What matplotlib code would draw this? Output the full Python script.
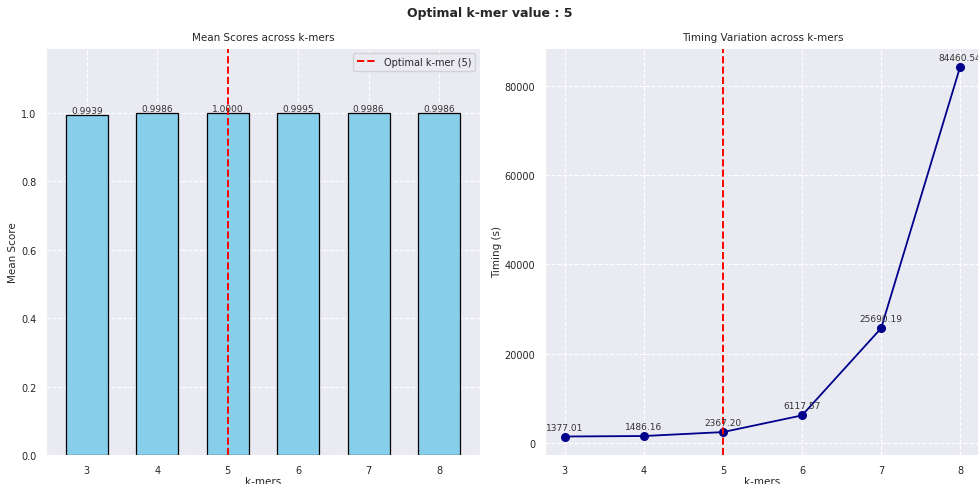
import matplotlib.pyplot as plt
import seaborn as sns

sns.set_style("darkgrid", {"grid.linestyle": "--"})

kmers = [3, 4, 5, 6, 7, 8]
mean_scores = [0.9939, 0.9986, 1.0000, 0.9995, 0.9986, 0.9986]
timings = [1377.01, 1486.16, 2367.20, 6117.57, 25690.19, 84460.54]
best_k = 5

fig = plt.figure(figsize=(9.79, 4.85), dpi=100)
ax1 = fig.add_axes([46 / 979, 29 / 485, 434 / 979, 407 / 485])
ax2 = fig.add_axes([545 / 979, 29 / 485, 435 / 979, 407 / 485])

fig.suptitle(f"Optimal k-mer value : {best_k}", fontsize=9, fontweight="bold", y=0.985)

# mean scores
pos = list(range(len(kmers)))
bars = ax1.bar(pos, mean_scores, width=0.6, color="skyblue", edgecolor="black", linewidth=0.9)
for b, v in zip(bars, mean_scores):
    ax1.text(b.get_x() + b.get_width() / 2, v, f"{v:.4f}", ha="center", va="bottom", fontsize=6.5, color="#333333")
ax1.axvline(kmers.index(best_k), color="red", linestyle="--", linewidth=1.4, label=f"Optimal k-mer ({best_k})")
ax1.set_xticks(pos)
ax1.set_xticklabels([str(k) for k in kmers])
ax1.set_ylim(0, 1.19)
ax1.set_title("Mean Scores across k-mers", fontsize=7.5)
ax1.set_xlabel("k-mers", fontsize=7.5, labelpad=1)
ax1.set_ylabel("Mean Score", fontsize=7.5, labelpad=2)
ax1.tick_params(labelsize=7)
ax1.legend(loc="upper right", fontsize=7)

# timings
ax2.plot(kmers, timings, color="darkblue", marker="o", markersize=5.5, linewidth=1.3)
for k, t in zip(kmers, timings):
    ax2.annotate(f"{t:.2f}", (k, t), textcoords="offset points", xytext=(0, 5), ha="center", fontsize=6.5, color="#333333")
ax2.axvline(best_k, color="red", linestyle="--", linewidth=1.4)
ax2.set_xticks(kmers)
ax2.set_title("Timing Variation across k-mers", fontsize=7.5)
ax2.set_xlabel("k-mers", fontsize=7.5, labelpad=1)
ax2.set_ylabel("Timing (s)", fontsize=7.5, labelpad=2)
ax2.tick_params(labelsize=7)

fig.savefig("out.png", dpi=100)
